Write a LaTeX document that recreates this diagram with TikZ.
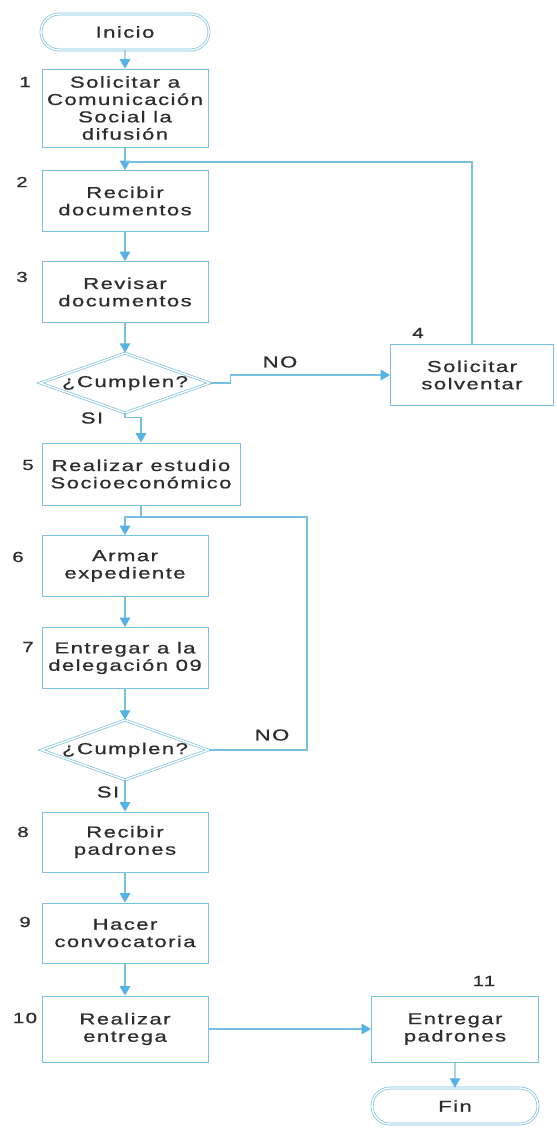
\documentclass[tikz,border=0pt]{standalone}
\usepackage{fontspec}
\setmainfont{Liberation Sans}[FakeStretch=1.4, LetterSpace=9, FakeBold=0.8]
\usetikzlibrary{shapes.geometric, shapes.misc, arrows.meta}
\definecolor{lineColor}{RGB}{120,192,225}
\definecolor{tipColor}{RGB}{85,178,230}
\definecolor{textColor}{RGB}{45,45,45}
\tikzstyle{flowPlane} = [x = .03cm, y = -.03cm]
\tikzstyle{boxStyle} = [draw=lineColor, line width=.8pt, rectangle, minimum width=4.98cm, minimum height=1.83cm, align=center, text=textColor, font=\fontsize{13.5}{14.8}\selectfont, inner sep=0pt]
\tikzstyle{terminalStyle} = [boxStyle, rounded rectangle, line width=.6pt, double, double distance=1.2pt, minimum width=5.04cm, minimum height=1.08cm]
\tikzstyle{decisionStyle} = [boxStyle, diamond, line width=.6pt, double, double distance=1.2pt, aspect=2.8, minimum width=5.1cm, minimum height=1.8cm]
\tikzstyle{flowLine} = [draw=lineColor, line width=1.1pt]
\tikzstyle{flowArrow} = [flowLine, -{Triangle[width=9pt, length=8pt, color=tipColor]}]
\tikzstyle{stepNumber} = [text=textColor, font=\fontsize{12.5}{12.5}\selectfont, inner sep=0pt]
\tikzstyle{answerText} = [text=textColor, font=\fontsize{13.5}{13.5}\selectfont, inner sep=0pt]

\begin{document}
\begin{tikzpicture}[flowPlane]
  \useasboundingbox (0,0) rectangle (556,1128);

  % main column
  \node [terminalStyle] (inicio) at (125,32) {Inicio};
  \node [boxStyle, minimum height=2.34cm] (solicitar) at (125,108) {Solicitar a\\Comunicación\\Social la\\difusión};
  \node [boxStyle] (recibir) at (125,201) {Recibir\\documentos};
  \node [boxStyle] (revisar) at (125,292) {Revisar\\documentos};
  \node [decisionStyle] (cumplenA) at (125,383) {¿Cumplen?};
  \node [boxStyle, minimum width=4.89cm] (solventar) at (472,375) {Solicitar\\solventar};
  \node [boxStyle, minimum width=5.94cm, minimum height=1.86cm] (estudio) at (141,474) {Realizar estudio\\Socioeconómico};
  \node [boxStyle] (armar) at (125,566) {Armar\\expediente};
  \node [boxStyle] (delegacion) at (125,658) {Entregar a la\\delegación 09};
  \node [decisionStyle, minimum width=5.0cm] (cumplenB) at (125,750) {¿Cumplen?};
  \node [boxStyle, minimum height=1.8cm] (padrones) at (125,842) {Recibir\\padrones};
  \node [boxStyle, minimum height=1.8cm] (convocatoria) at (125,933) {Hacer\\convocatoria};
  \node [boxStyle, minimum height=1.98cm] (entrega) at (125,1029) {Realizar\\entrega};
  \node [boxStyle, minimum width=5.01cm, minimum height=1.98cm] (entregarPadrones) at (455,1029) {Entregar\\padrones};
  \node [terminalStyle, minimum width=4.98cm] (fin) at (455,1106) {Fin};

  % step numbers
  \foreach \num/\px/\py in {1/25/82, 2/22/182, 3/22/277, 4/418/333, 5/28/465, 6/18/557,
                            7/28/647, 8/23/832, 9/25/922, 10/25/1018, 11/484/981}
    \node [stepNumber] (num\num) at (\px,\py) {\num};

  \node [answerText] (noA) at (280,362) {NO};
  \node [answerText] (siA) at (92,418) {SI};
  \node [answerText] (noB) at (272,735) {NO};
  \node [answerText] (siB) at (108,792) {SI};

  % connectors
  \coordinate (joinTop) at (125,162);
  \coordinate (joinMid) at (125,517);
  \coordinate (loopMid) at (307,517);

  \draw [flowArrow] (inicio) -- (solicitar);
  \draw [flowArrow] (solicitar) -- (recibir);
  \draw [flowLine] (solventar.north) |- (joinTop);
  \draw [flowArrow] (recibir) -- (revisar);
  \draw [flowArrow] (revisar) -- (cumplenA);
  \draw [flowArrow] (cumplenA.east) -- ++(20,0) |- (solventar.west);
  \draw [flowArrow] (cumplenA.south) -- ++(0,4) -| (estudio.north);
  \draw [flowArrow] (estudio.south) |- (joinMid) -- (armar.north);
  \draw [flowLine] (cumplenB.east) -| (loopMid) -- (estudio.south |- loopMid);
  \draw [flowArrow] (armar) -- (delegacion);
  \draw [flowArrow] (delegacion) -- (cumplenB);
  \draw [flowArrow] (cumplenB) -- (padrones);
  \draw [flowArrow] (padrones) -- (convocatoria);
  \draw [flowArrow] (convocatoria) -- (entrega);
  \draw [flowArrow] (entrega) -- (entregarPadrones);
  \draw [flowArrow] (entregarPadrones) -- (fin);
\end{tikzpicture}
\end{document}
